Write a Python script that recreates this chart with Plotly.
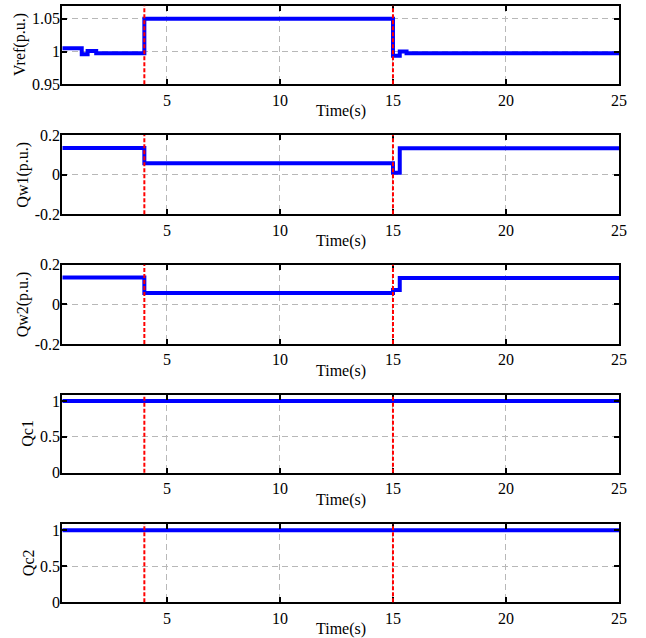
import plotly.graph_objects as go

# Simulation time span and event instants (s)
t_start = 0.37
t_end = 25
event_times = [4, 15]

# Step-wise signals: breakpoints and values held until the next breakpoint
vref_t = [0.37, 1.23, 1.49, 1.87, 4, 15, 15.3, 15.6, 25]
vref_v = [1.005, 0.996, 1.001, 0.9975, 1.05, 0.9935, 1.0, 0.9975, 0.9975]

qw1_t = [0.37, 4, 15, 15.3, 25]
qw1_v = [0.135, 0.057, 0.01, 0.133, 0.133]

qw2_t = [0.37, 4, 15, 15.3, 25]
qw2_v = [0.135, 0.057, 0.073, 0.133, 0.133]

qc1_t = [0.37, 25]
qc1_v = [1, 1]

qc2_t = [0.37, 25]
qc2_v = [1, 1]

x_ticks = [5, 10, 15, 20, 25]

panels = [
    dict(t=vref_t, v=vref_v, label="Vref(p.u.)", rng=[0.95, 1.07],
         ticks=[0.95, 1, 1.05], ticktext=["0.95", "1", "1.05"], top=5.7, bot=84.3, lx=20),
    dict(t=qw1_t, v=qw1_v, label="Qw1(p.u.)", rng=[-0.2, 0.2],
         ticks=[-0.2, 0, 0.2], ticktext=["-0.2", "0", "0.2"], top=135, bot=214.3, lx=23),
    dict(t=qw2_t, v=qw2_v, label="Qw2(p.u.)", rng=[-0.2, 0.2],
         ticks=[-0.2, 0, 0.2], ticktext=["-0.2", "0", "0.2"], top=264.7, bot=344, lx=23),
    dict(t=qc1_t, v=qc1_v, label="Qc1", rng=[0, 1.088],
         ticks=[0, 0.5, 1], ticktext=["0", "0.5", "1"], top=394.7, bot=472.7, lx=28),
    dict(t=qc2_t, v=qc2_v, label="Qc2", rng=[0, 1.085],
         ticks=[0, 0.5, 1], ticktext=["0", "0.5", "1"], top=524, bot=602.3, lx=28),
]

W, H = 646, 638
x0_px, x1_px = 62.3, 619
font = dict(family="Liberation Serif, Times New Roman, serif", size=16, color="black")

fig = go.Figure()
layout = dict(
    width=W, height=H, margin=dict(l=0, r=0, t=0, b=0, pad=0),
    paper_bgcolor="white", plot_bgcolor="white", showlegend=False, font=font,
)
annotations = []
shapes = []

for i, p in enumerate(panels):
    n = "" if i == 0 else str(i + 1)
    xa, ya = "x" + n, "y" + n
    top, bot = p["top"], p["bot"]
    fig.add_trace(go.Scatter(
        x=p["t"], y=p["v"], mode="lines", line_shape="hv",
        line=dict(color="#0000ff", width=4), xaxis=xa, yaxis=ya,
    ))
    common = dict(
        showline=True, linecolor="black", linewidth=2, mirror="allticks",
        ticks="inside", ticklen=5, tickwidth=2, tickcolor="black",
        showgrid=True, gridcolor="#b8b8b8", griddash="6px,4px", gridwidth=1,
        zeroline=False, tickfont=font, automargin=False,
    )
    layout["xaxis" + n] = dict(
        common, domain=[x0_px / W, x1_px / W], range=[t_start, t_end],
        tickvals=x_ticks, ticktext=[str(v) for v in x_ticks], anchor=ya,
    )
    layout["yaxis" + n] = dict(
        common, domain=[1 - bot / H, 1 - top / H], range=p["rng"],
        tickvals=p["ticks"], ticktext=p["ticktext"], anchor=xa,
        ticklabelstandoff=-3,
    )
    for te in event_times:
        shapes.append(dict(
            type="line", xref=xa, yref=ya + " domain", x0=te, x1=te, y0=0, y1=1,
            line=dict(color="#ff0000", width=2, dash="4px,2px"), layer="above",
        ))
    annotations.append(dict(
        text="Time(s)", xref="paper", yref="paper",
        x=(x0_px + x1_px) / 2 / W, y=1 - (bot + 27) / H,
        xanchor="center", yanchor="middle", showarrow=False, font=font,
    ))
    annotations.append(dict(
        text=p["label"], xref="paper", yref="paper", textangle=-90,
        x=p["lx"] / W, y=1 - (top + bot) / 2 / H,
        xanchor="center", yanchor="middle", showarrow=False, font=font,
    ))

layout["annotations"] = annotations
layout["shapes"] = shapes
fig.update_layout(**layout)
fig.write_html("out.html")
